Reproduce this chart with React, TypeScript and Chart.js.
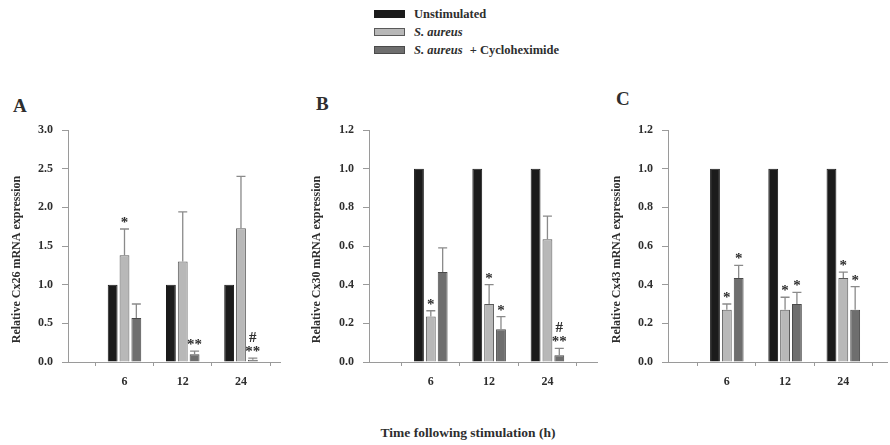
import React, { useEffect, useRef } from "react";
import { Chart, registerables } from "chart.js";

Chart.register(...registerables);

// ---------- data ----------
const timeLabels = ["6", "12", "24"];
const seriesNames = ["Unstimulated", "S. aureus", "S. aureus + Cycloheximide"];

// Panel A – Cx26
const cx26Unstim = [1, 1, 1];
const cx26Saureus = [1.38, 1.3, 1.73];
const cx26SaureusErr = [0.34, 0.64, 0.67];
const cx26Cyclo = [0.57, 0.1, 0.03];
const cx26CycloErr = [0.18, 0.04, 0.02];
const cx26SaureusMarks = ["*", "", ""];
const cx26CycloMarks = ["", "**", "#\n**"];

// Panel B – Cx30
const cx30Unstim = [1, 1, 1];
const cx30Saureus = [0.235, 0.3, 0.635];
const cx30SaureusErr = [0.03, 0.1, 0.12];
const cx30Cyclo = [0.465, 0.17, 0.035];
const cx30CycloErr = [0.125, 0.065, 0.035];
const cx30SaureusMarks = ["*", "*", ""];
const cx30CycloMarks = ["", "*", "#\n**"];

// Panel C – Cx43
const cx43Unstim = [1, 1, 1];
const cx43Saureus = [0.27, 0.27, 0.435];
const cx43SaureusErr = [0.03, 0.065, 0.03];
const cx43Cyclo = [0.435, 0.3, 0.27];
const cx43CycloErr = [0.065, 0.06, 0.12];
const cx43SaureusMarks = ["*", "*", "*"];
const cx43CycloMarks = ["*", "*", "*"];

const yTicksA = [0, 0.5, 1.0, 1.5, 2.0, 2.5, 3.0];
const yTicksBC = [0, 0.2, 0.4, 0.6, 0.8, 1.0, 1.2];

// ---------- styles ----------
const COLORS = ["#1b1b1b", "#b8b8b8", "#6e6e6e"];
const BORDERS = ["#1b1b1b", "#5a5a5a", "#4a4a4a"];
const SERIF = '"Liberation Serif", "DejaVu Serif", serif';
const TEXT = "#2e2e2e";
const AXIS = "#9a9a9a";

const errorBarPlugin = {
  id: "errorBarsAndMarks",
  afterDatasetsDraw(chart: any) {
    const ctx = chart.ctx;
    const yScale = chart.scales.y;
    chart.data.datasets.forEach((ds: any, di: number) => {
      const meta = chart.getDatasetMeta(di);
      meta.data.forEach((el: any, i: number) => {
        const v = ds.data[i].y;
        let topY = el.y;
        if (ds.errors && ds.errors[i] != null) {
          const yE = yScale.getPixelForValue(v + ds.errors[i]);
          ctx.save();
          ctx.strokeStyle = "#8a8a8a";
          ctx.lineWidth = 1.3;
          ctx.beginPath();
          ctx.moveTo(el.x, el.y);
          ctx.lineTo(el.x, yE);
          ctx.moveTo(el.x - 4.5, yE);
          ctx.lineTo(el.x + 4.5, yE);
          ctx.stroke();
          ctx.restore();
          topY = yE;
        }
        if (ds.marks && ds.marks[i]) {
          const lines = ds.marks[i].split("\n").reverse();
          ctx.save();
          ctx.font = `bold 15px ${SERIF}`;
          ctx.fillStyle = TEXT;
          ctx.textAlign = "center";
          ctx.textBaseline = "alphabetic";
          let base = topY - 2;
          lines.forEach((l: string) => {
            ctx.fillText(l, el.x, base);
            base -= 14;
          });
          ctx.restore();
        }
      });
    });
  },
};

type PanelSpec = {
  left: number;
  width: number;
  yMax: number;
  yTicks: number[];
  xMin: number;
  xMax: number;
  padRight: number;
  yAxisWidth: number;
  yTitle: string;
  series: number[][];
  errors: (number[] | null)[];
  marks: (string[] | null)[];
};

const TITLE_PAD = "         ";

const panels: PanelSpec[] = [
  {
    left: 0,
    width: 300,
    yMax: 3,
    yTicks: yTicksA,
    xMin: -0.97,
    xMax: 2.67,
    padRight: 20,
    yAxisWidth: 68,
    yTitle: "Relative Cx26 mRNA expression" + TITLE_PAD,
    series: [cx26Unstim, cx26Saureus, cx26Cyclo],
    errors: [null, cx26SaureusErr, cx26CycloErr],
    marks: [null, cx26SaureusMarks, cx26CycloMarks],
  },
  {
    left: 300,
    width: 300,
    yMax: 1.2,
    yTicks: yTicksBC,
    xMin: -1.06,
    xMax: 2.85,
    padRight: 3,
    yAxisWidth: 69,
    yTitle: "Relative Cx30 mRNA expression" + TITLE_PAD,
    series: [cx30Unstim, cx30Saureus, cx30Cyclo],
    errors: [null, cx30SaureusErr, cx30CycloErr],
    marks: [null, cx30SaureusMarks, cx30CycloMarks],
  },
  {
    left: 600,
    width: 290,
    yMax: 1.2,
    yTicks: yTicksBC,
    xMin: -1.01,
    xMax: 2.75,
    padRight: 3,
    yAxisWidth: 68,
    yTitle: "Relative Cx43 mRNA expression" + TITLE_PAD,
    series: [cx43Unstim, cx43Saureus, cx43Cyclo],
    errors: [null, cx43SaureusErr, cx43CycloErr],
    marks: [null, cx43SaureusMarks, cx43CycloMarks],
  },
];

const PANEL_TOP = 90;
const PANEL_H = 320;

function Panel({ spec }: { spec: PanelSpec }) {
  const ref = useRef<HTMLCanvasElement | null>(null);
  useEffect(() => {
    if (!ref.current) return;
    const chart = new Chart(ref.current, {
      type: "bar",
      data: {
        datasets: spec.series.map((vals, si) => ({
          label: seriesNames[si],
          data: vals.map((v, i) => ({ x: i, y: v })),
          backgroundColor: COLORS[si],
          borderColor: BORDERS[si],
          borderWidth: 1,
          borderSkipped: "bottom",
          errors: spec.errors[si],
          marks: spec.marks[si],
          categoryPercentage: 0.61,
          barPercentage: 0.83,
        })) as any,
      },
      options: {
        animation: false,
        responsive: false,
        layout: { padding: { top: 40, right: spec.padRight, left: 0, bottom: 0 } },
        plugins: { legend: { display: false }, tooltip: { enabled: false } },
        scales: {
          x: {
            type: "linear",
            min: spec.xMin,
            max: spec.xMax,
            offset: false,
            afterBuildTicks: (scale: any) => {
              scale.ticks = timeLabels.map((_, i) => ({ value: i }));
            },
            afterFit: (scale: any) => {
              scale.height = 48;
            },
            grid: { drawOnChartArea: false, tickLength: 4, color: AXIS },
            border: { color: AXIS, width: 1 },
            ticks: {
              padding: 9,
              color: TEXT,
              font: { family: SERIF, size: 12, weight: "bold" },
              callback: (v: any) => timeLabels[v] ?? "",
            },
          },
          y: {
            min: 0,
            max: spec.yMax,
            afterBuildTicks: (scale: any) => {
              scale.ticks = spec.yTicks.map((v) => ({ value: v }));
            },
            afterFit: (scale: any) => {
              scale.width = spec.yAxisWidth;
            },
            grid: { drawOnChartArea: false, tickLength: 6, color: AXIS },
            border: { color: AXIS, width: 1 },
            ticks: {
              padding: 9,
              color: TEXT,
              font: { family: SERIF, size: 12, weight: "bold" },
              callback: (v: any) => Number(v).toFixed(1),
            },
            title: {
              display: true,
              text: spec.yTitle,
              color: TEXT,
              padding: { top: 10, bottom: 0 },
              font: { family: SERIF, size: 12, weight: "bold" },
            },
          },
        },
      },
      plugins: [errorBarPlugin],
    } as any);
    return () => chart.destroy();
  }, [spec]);
  return (
    <canvas
      ref={ref}
      width={spec.width}
      height={PANEL_H}
      style={{ position: "absolute", left: spec.left, top: PANEL_TOP, width: spec.width, height: PANEL_H }}
    />
  );
}

const panelLetters = [
  { t: "A", x: 13, y: 96 },
  { t: "B", x: 316, y: 94 },
  { t: "C", x: 616, y: 89 },
];

export default function App() {
  const legendRows = [
    [<span key="a">Unstimulated</span>],
    [<i key="b">S. aureus</i>],
    [<i key="c">S. aureus</i>, <span key="d" style={{ marginLeft: 7 }}>+ Cycloheximide</span>],
  ];
  return (
    <div
      style={{
        position: "fixed",
        left: 0,
        top: 0,
        width: 890,
        height: 445,
        background: "#fff",
        overflow: "hidden",
        fontFamily: SERIF,
        color: TEXT,
      }}
    >
      {legendRows.map((content, i) => (
        <div key={i} style={{ position: "absolute", left: 374, top: 6 + i * 18, height: 16, display: "flex", alignItems: "center" }}>
          <div style={{ width: 31, height: 8, background: COLORS[i], border: `1px solid ${BORDERS[i]}`, boxSizing: "border-box" }} />
          <div style={{ marginLeft: 9, fontWeight: "bold", fontSize: 12.5, whiteSpace: "nowrap" }}>{content}</div>
        </div>
      ))}
      {panelLetters.map((p) => (
        <div key={p.t} style={{ position: "absolute", left: p.x, top: p.y, fontWeight: "bold", fontSize: 19, lineHeight: "19px" }}>
          {p.t}
        </div>
      ))}
      {panels.map((p, i) => (
        <Panel key={i} spec={p} />
      ))}
      <div style={{ position: "absolute", left: 0, width: 936, top: 425, textAlign: "center", fontWeight: "bold", fontSize: 13.5 }}>
        Time following stimulation (h)
      </div>
    </div>
  );
}
